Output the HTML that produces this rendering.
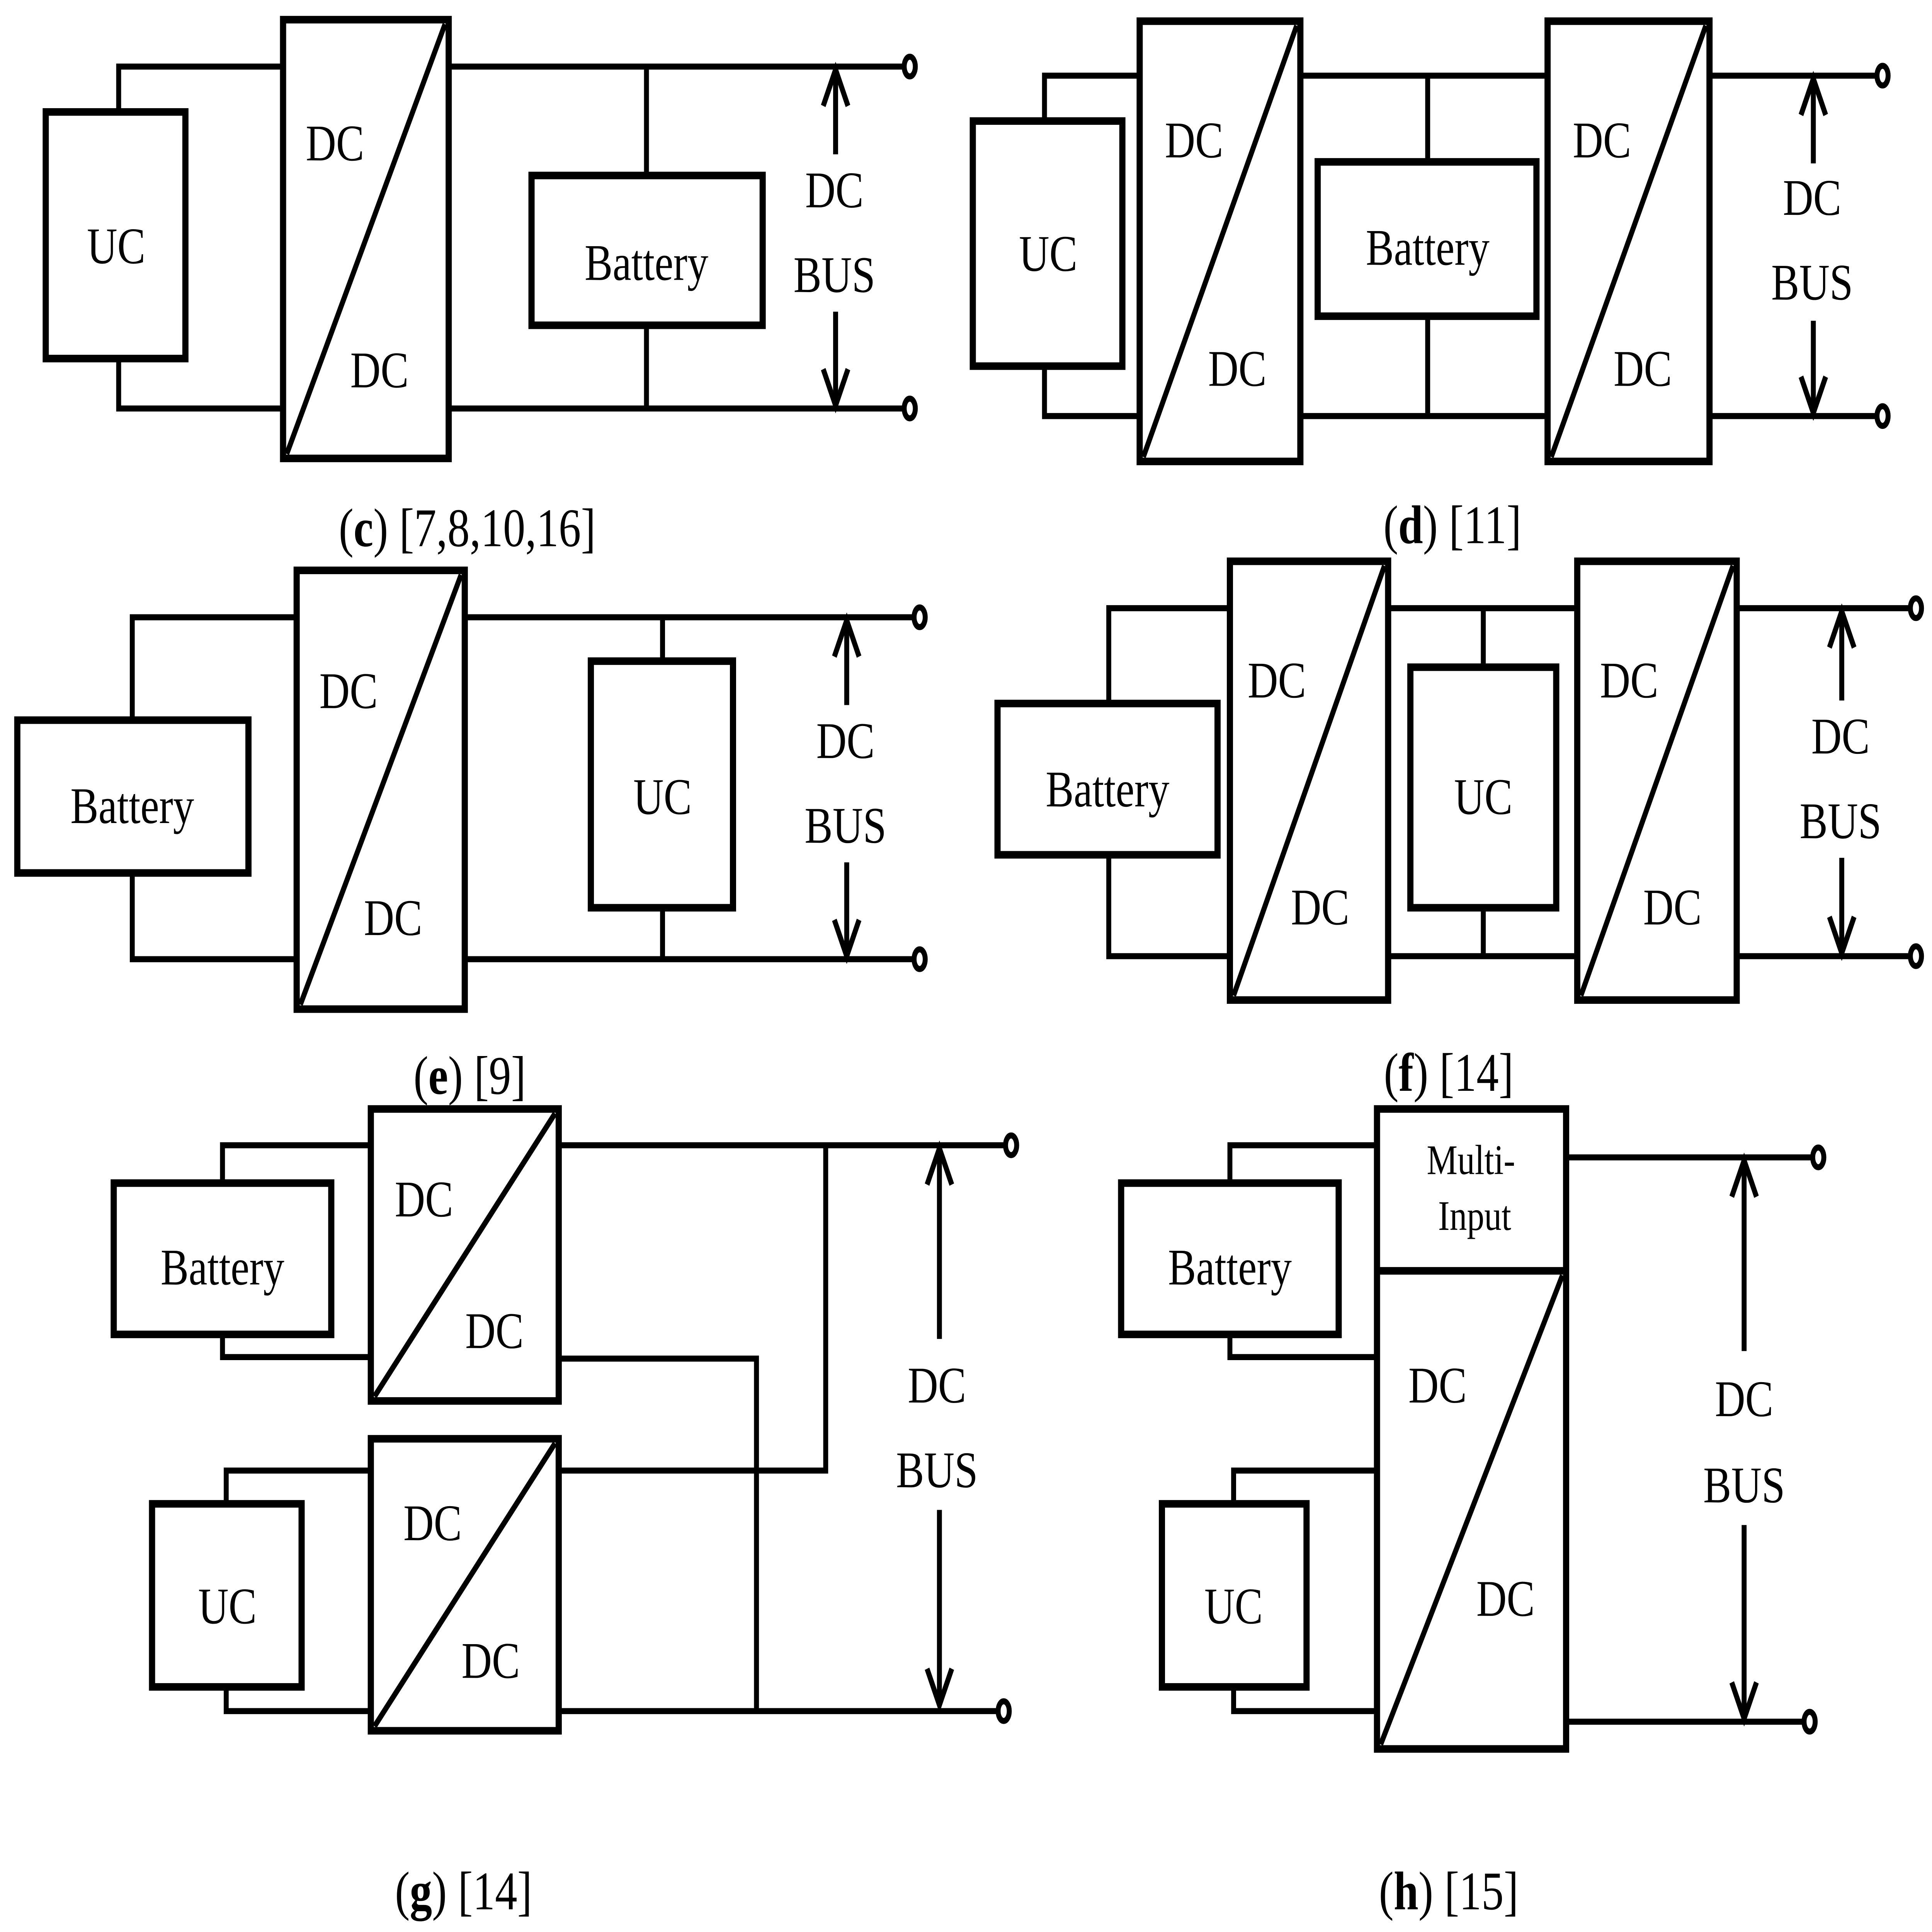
<!DOCTYPE html>
<html><head><meta charset="utf-8">
<style>
html,body{margin:0;padding:0;background:#fff;overflow:hidden;width:100%;height:100%;}
svg{display:block;position:fixed;left:0;top:0;width:100vw;height:100vh;}
text{font-family:"Liberation Serif",serif;fill:#000;}
</style></head>
<body>
<svg viewBox="0 0 1563 1277" preserveAspectRatio="none" xmlns="http://www.w3.org/2000/svg">
<rect x="0" y="0" width="1563" height="1277" fill="#fff"/>
<g fill="none" stroke="#000" stroke-width="4" stroke-linecap="butt">
<polyline points="229,44 96,44 96,74"/>
<polyline points="229,270 96,270 96,237"/>
<line x1="363" y1="44" x2="730" y2="44"/>
<line x1="363" y1="270" x2="730" y2="270"/>
<line x1="523" y1="44" x2="523" y2="116"/>
<line x1="523" y1="215" x2="523" y2="270"/>
<line x1="676" y1="48" x2="676" y2="102"/>
<line x1="676" y1="206" x2="676" y2="266"/>
<polyline points="666,70 676,46 686,70"/>
<polyline points="666,244 676,268 686,244"/>
<polyline points="922,50 845,50 845,80"/>
<polyline points="922,275 845,275 845,242"/>
<line x1="1052" y1="50" x2="1252" y2="50"/>
<line x1="1052" y1="275" x2="1252" y2="275"/>
<line x1="1155" y1="50" x2="1155" y2="107"/>
<line x1="1155" y1="209" x2="1155" y2="275"/>
<line x1="1383" y1="50" x2="1517" y2="50"/>
<line x1="1383" y1="275" x2="1517" y2="275"/>
<line x1="1467" y1="54" x2="1467" y2="108"/>
<line x1="1467" y1="212" x2="1467" y2="271"/>
<polyline points="1457,76 1467,52 1477,76"/>
<polyline points="1457,249 1467,273 1477,249"/>
<polyline points="240,408 107,408 107,476"/>
<polyline points="240,634 107,634 107,577"/>
<line x1="376" y1="408" x2="738" y2="408"/>
<line x1="376" y1="634" x2="738" y2="634"/>
<line x1="536" y1="408" x2="536" y2="437"/>
<line x1="536" y1="600" x2="536" y2="634"/>
<line x1="685" y1="412" x2="685" y2="466"/>
<line x1="685" y1="570" x2="685" y2="630"/>
<polyline points="675,434 685,410 695,434"/>
<polyline points="675,608 685,632 695,608"/>
<polyline points="995,402 897,402 897,465"/>
<polyline points="995,632 897,632 897,565"/>
<line x1="1123" y1="402" x2="1276" y2="402"/>
<line x1="1123" y1="632" x2="1276" y2="632"/>
<line x1="1200" y1="402" x2="1200" y2="441"/>
<line x1="1200" y1="600" x2="1200" y2="632"/>
<line x1="1405" y1="402" x2="1545" y2="402"/>
<line x1="1405" y1="632" x2="1545" y2="632"/>
<line x1="1490" y1="406" x2="1490" y2="463"/>
<line x1="1490" y1="567" x2="1490" y2="628"/>
<polyline points="1480,428 1490,404 1500,428"/>
<polyline points="1480,606 1490,630 1500,606"/>
<polyline points="300,757 180,757 180,782"/>
<polyline points="300,897 180,897 180,882"/>
<line x1="452" y1="757" x2="812" y2="757"/>
<polyline points="452,898 612,898 612,1131"/>
<polyline points="300,972 183,972 183,994"/>
<polyline points="300,1131 183,1131 183,1115"/>
<polyline points="452,972 668,972 668,757"/>
<line x1="452" y1="1131" x2="806" y2="1131"/>
<line x1="760" y1="761" x2="760" y2="885"/>
<line x1="760" y1="998" x2="760" y2="1125"/>
<polyline points="750,783 760,759 770,783"/>
<polyline points="750,1103 760,1127 770,1103"/>
<polyline points="1114,757 995,757 995,782"/>
<polyline points="1114,897 995,897 995,882"/>
<polyline points="1114,972 998,972 998,994"/>
<polyline points="1114,1131 998,1131 998,1115"/>
<line x1="1267" y1="765" x2="1465" y2="765"/>
<line x1="1267" y1="1138" x2="1458" y2="1138"/>
<line x1="1411" y1="769" x2="1411" y2="893"/>
<line x1="1411" y1="1008" x2="1411" y2="1134"/>
<polyline points="1401,791 1411,767 1421,791"/>
<polyline points="1401,1112 1411,1136 1421,1112"/>
</g>
<g fill="#fff" stroke="#000" stroke-width="5">
<rect x="37" y="74" width="113" height="163"/>
<rect x="229" y="13" width="134" height="290"/>
<rect x="430" y="116" width="187" height="99"/>
<rect x="787" y="80" width="121" height="162"/>
<rect x="922" y="14" width="130" height="291"/>
<rect x="1066" y="107" width="177" height="102"/>
<rect x="1252" y="14" width="131" height="291"/>
<rect x="14" y="476" width="187" height="101"/>
<rect x="240" y="377" width="136" height="290"/>
<rect x="478" y="437" width="115" height="163"/>
<rect x="807" y="465" width="178" height="100"/>
<rect x="995" y="371" width="128" height="290"/>
<rect x="1141" y="441" width="118" height="159"/>
<rect x="1276" y="371" width="129" height="290"/>
<rect x="92" y="782" width="176" height="100"/>
<rect x="300" y="733" width="152" height="193"/>
<rect x="123" y="994" width="121" height="121"/>
<rect x="300" y="951" width="152" height="193"/>
<rect x="907" y="782" width="176" height="100"/>
<rect x="940" y="994" width="117" height="121"/>
<rect x="1114" y="733" width="153" height="423"/>
</g>
<g stroke="#000" stroke-width="4" fill="none">
<line x1="1114" y1="840" x2="1267" y2="840" stroke-width="5"/>
<line x1="360" y1="16" x2="232" y2="300"/>
<line x1="1049" y1="17" x2="925" y2="302"/>
<line x1="1380" y1="17" x2="1255" y2="302"/>
<line x1="373" y1="380" x2="243" y2="664"/>
<line x1="1120" y1="374" x2="998" y2="658"/>
<line x1="1402" y1="374" x2="1279" y2="658"/>
<line x1="449" y1="736" x2="303" y2="923"/>
<line x1="449" y1="954" x2="303" y2="1141"/>
<line x1="1264" y1="843" x2="1117" y2="1153"/>
</g>
<g fill="#fff" stroke="#000" stroke-width="4">
<ellipse cx="736" cy="44" rx="4.5" ry="6.5"/>
<ellipse cx="736" cy="270" rx="4.5" ry="6.5"/>
<ellipse cx="1523" cy="50" rx="4.5" ry="6.5"/>
<ellipse cx="1523" cy="275" rx="4.5" ry="6.5"/>
<ellipse cx="744" cy="408" rx="4.5" ry="6.5"/>
<ellipse cx="744" cy="634" rx="4.5" ry="6.5"/>
<ellipse cx="1550" cy="402" rx="4.5" ry="6.5"/>
<ellipse cx="1550" cy="632" rx="4.5" ry="6.5"/>
<ellipse cx="818" cy="757" rx="4.5" ry="6.5"/>
<ellipse cx="812" cy="1131" rx="4.5" ry="6.5"/>
<ellipse cx="1471" cy="765" rx="4.5" ry="6.5"/>
<ellipse cx="1464" cy="1138" rx="4.5" ry="6.5"/>
</g>
<g font-size="34" text-anchor="middle">
<text x="94" y="174">UC</text>
<text x="271" y="106">DC</text>
<text x="307" y="256">DC</text>
<text x="523" y="185">Battery</text>
<text x="675" y="137">DC</text>
<text x="675" y="193">BUS</text>
<text x="848" y="179">UC</text>
<text x="966" y="104">DC</text>
<text x="1001" y="255">DC</text>
<text x="1155" y="175">Battery</text>
<text x="1296" y="104">DC</text>
<text x="1329" y="255">DC</text>
<text x="1466" y="142">DC</text>
<text x="1466" y="198">BUS</text>
<text x="107" y="544">Battery</text>
<text x="282" y="468">DC</text>
<text x="318" y="618">DC</text>
<text x="536" y="538">UC</text>
<text x="684" y="501">DC</text>
<text x="684" y="557">BUS</text>
<text x="896" y="533">Battery</text>
<text x="1033" y="461">DC</text>
<text x="1068" y="611">DC</text>
<text x="1200" y="538">UC</text>
<text x="1318" y="461">DC</text>
<text x="1353" y="611">DC</text>
<text x="1489" y="498">DC</text>
<text x="1489" y="554">BUS</text>
<text x="180" y="849">Battery</text>
<text x="343" y="804">DC</text>
<text x="400" y="891">DC</text>
<text x="184" y="1073">UC</text>
<text x="350" y="1018">DC</text>
<text x="397" y="1109">DC</text>
<text x="758" y="927">DC</text>
<text x="758" y="983">BUS</text>
<text x="995" y="849">Battery</text>
<text x="998" y="1073">UC</text>
<text x="1163" y="927">DC</text>
<text x="1218" y="1068">DC</text>
<text x="1411" y="936">DC</text>
<text x="1411" y="993">BUS</text>
</g>
<g font-size="28" text-anchor="middle">
<text x="1190" y="776">Multi-</text>
<text x="1193" y="813">Input</text>
</g>
<g font-size="36" text-anchor="middle">
<text x="378" y="361">(<tspan font-weight="bold">c</tspan>) [7,8,10,16]</text>
<text x="1175" y="359">(<tspan font-weight="bold">d</tspan>) [11]</text>
<text x="380" y="723">(<tspan font-weight="bold">e</tspan>) [9]</text>
<text x="1172" y="721">(<tspan font-weight="bold">f</tspan>) [14]</text>
<text x="375" y="1262">(<tspan font-weight="bold">g</tspan>) [14]</text>
<text x="1172" y="1262">(<tspan font-weight="bold">h</tspan>) [15]</text>
</g>
</svg>
</body></html>
